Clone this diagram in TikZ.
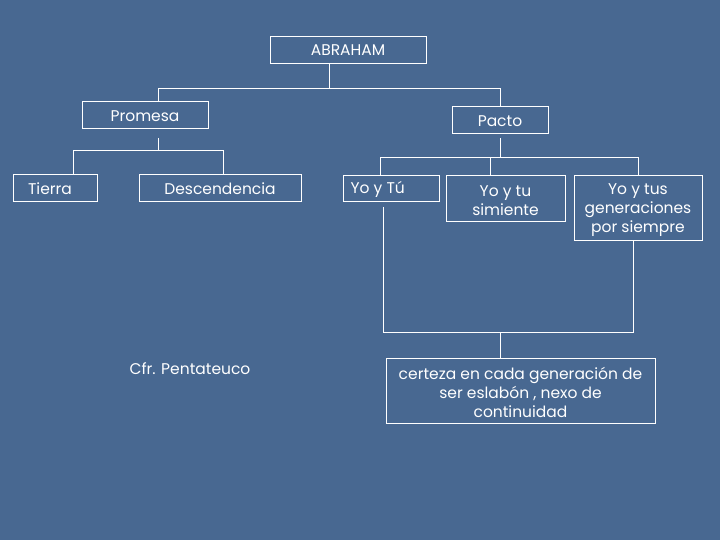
\documentclass[tikz,border=0pt]{standalone}
\usepackage{fontspec}
\setmainfont{Poppins}
\begin{document}
\begin{tikzpicture}[x=1pt,y=-1pt,
  box/.style={draw=white,line width=0.8pt,inner sep=0pt},
  lab/.style={text=white,font=\fontsize{15.5}{19}\selectfont,align=center},
  ln/.style={draw=white,line width=0.8pt}]
\fill[fill={rgb,255:red,72;green,104;blue,145}] (0,0) rectangle (720,540);
\useasboundingbox (0,0) rectangle (720,540);
\node[box,minimum width=156pt,minimum height=27pt] (ab) at (348,49.5) {};
\node[lab] at (348,50.5) {ABRAHAM};
\node[box,minimum width=126pt,minimum height=27pt] (pr) at (145,114.5) {};
\node[lab] at (145,116) {Promesa};
\node[box,minimum width=96pt,minimum height=27pt] (pa) at (500,119.5) {};
\node[lab] at (500,121) {Pacto};
\node[box,minimum width=84pt,minimum height=27pt] (ti) at (55,187.5) {};
\node[lab] at (50,189) {Tierra};
\node[box,minimum width=162pt,minimum height=27pt] (de) at (220,187.5) {};
\node[lab] at (220,189) {Descendencia};
\node[box,minimum width=96pt,minimum height=26pt] (yt) at (391,188) {};
\node[lab,anchor=west] at (347,189) {Yo y Tú};
\node[box,minimum width=119pt,minimum height=46pt] (ys) at (505.5,198) {};
\node[lab] at (505.5,200.5) {Yo y tu\\simiente};
\node[box,minimum width=128pt,minimum height=65pt] (yg) at (638,207.5) {};
\node[lab] at (638,210.5) {Yo y tus\\generaciones\\por siempre};
\node[box,minimum width=269pt,minimum height=65pt] (ce) at (520.5,390.5) {};
\node[lab] at (520.5,392) {certeza en cada generación de\\ser eslabón , nexo de\\continuidad};
\node[lab] (cf) at (190,369) {Cfr. Pentateuco};
% connectors
\coordinate (a1) at (329,63); \coordinate (a2) at (329,88);
\coordinate (a3) at (158,88); \coordinate (a4) at (500,88);
\draw[ln] (a1) -- (a2);
\draw[ln] (pr.north -| a3) -- (a3) -- (a4) -- (pa.north -| a4);
\coordinate (p1) at (158,138); \coordinate (p2) at (158,150);
\coordinate (p3) at (73,150); \coordinate (p4) at (223,150);
\draw[ln] (p1) -- (p2);
\draw[ln] (ti.north -| p3) -- (p3) -- (p4) -- (de.north -| p4);
\coordinate (q1) at (500,138); \coordinate (q2) at (500,157);
\coordinate (q3) at (380,157); \coordinate (q4) at (638,157);
\coordinate (q5) at (490,157);
\draw[ln] (q1) -- (q2);
\draw[ln] (yt.north -| q3) -- (q3) -- (q4) -- (yg.north -| q4);
\draw[ln] (q5) -- (ys.north -| q5);
\coordinate (r1) at (383,207); \coordinate (r2) at (383,332);
\coordinate (r3) at (633,241); \coordinate (r4) at (633,332);
\coordinate (r5) at (500,332);
\draw[ln] (r1) -- (r2) -- (r4) -- (r3);
\draw[ln] (r5) -- (ce.north -| r5);
\end{tikzpicture}
\end{document}
